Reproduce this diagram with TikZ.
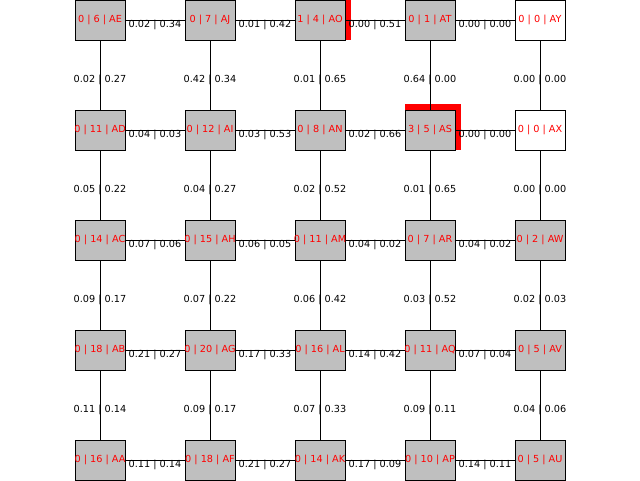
\documentclass[tikz,border=0pt]{standalone}
\usepackage{fontspec}
\setmainfont{DejaVu Sans}
\usetikzlibrary{backgrounds}
\definecolor{cellgray}{HTML}{BFBFBF}
\begin{document}
\begin{tikzpicture}[x=1pt,y=-1pt,
  cell/.style={draw=black, line width=1pt, fill=cellgray, minimum width=50pt, minimum height=40pt, inner sep=0pt, text=red, font=\fontsize{9.7}{11}\selectfont},
  wcell/.style={cell, fill=white},
  link/.style={draw=black, line width=1pt},
  elab/.style={midway, inner sep=0pt, text=black, yshift=-5pt, font=\fontsize{9.7}{11}\selectfont},
  redbar/.style={fill=red, draw=none}]
\useasboundingbox (0,0) rectangle (640,480);
% row 1
\node[cell] (AE) at (100,20) {\makebox[0pt]{0 | 6 | AE}};
\node[cell] (AJ) at (210,20) {\makebox[0pt]{0 | 7 | AJ}};
\node[cell] (AO) at (320,20) {\makebox[0pt]{1 | 4 | AO}};
\node[cell] (AT) at (430,20) {\makebox[0pt]{0 | 1 | AT}};
\node[wcell] (AY) at (540,20) {\makebox[0pt]{0 | 0 | AY}};
% row 2
\node[cell] (AD) at (100,130) {\makebox[0pt]{0 | 11 | AD}};
\node[cell] (AI) at (210,130) {\makebox[0pt]{0 | 12 | AI}};
\node[cell] (AN) at (320,130) {\makebox[0pt]{0 | 8 | AN}};
\node[cell] (AS) at (430,130) {\makebox[0pt]{3 | 5 | AS}};
\node[wcell] (AX) at (540,130) {\makebox[0pt]{0 | 0 | AX}};
% row 3
\node[cell] (AC) at (100,240) {\makebox[0pt]{0 | 14 | AC}};
\node[cell] (AH) at (210,240) {\makebox[0pt]{0 | 15 | AH}};
\node[cell] (AM) at (320,240) {\makebox[0pt]{0 | 11 | AM}};
\node[cell] (AR) at (430,240) {\makebox[0pt]{0 | 7 | AR}};
\node[cell] (AW) at (540,240) {\makebox[0pt]{0 | 2 | AW}};
% row 4
\node[cell] (AB) at (100,350) {\makebox[0pt]{0 | 18 | AB}};
\node[cell] (AG) at (210,350) {\makebox[0pt]{0 | 20 | AG}};
\node[cell] (AL) at (320,350) {\makebox[0pt]{0 | 16 | AL}};
\node[cell] (AQ) at (430,350) {\makebox[0pt]{0 | 11 | AQ}};
\node[cell] (AV) at (540,350) {\makebox[0pt]{0 | 5 | AV}};
% row 5
\node[cell] (AA) at (100,460) {\makebox[0pt]{0 | 16 | AA}};
\node[cell] (AF) at (210,460) {\makebox[0pt]{0 | 18 | AF}};
\node[cell] (AK) at (320,460) {\makebox[0pt]{0 | 14 | AK}};
\node[cell] (AP) at (430,460) {\makebox[0pt]{0 | 10 | AP}};
\node[cell] (AU) at (540,460) {\makebox[0pt]{0 | 5 | AU}};
% red marks
\begin{scope}[on background layer]
\fill[redbar] (345,-2) rectangle (350.7,40);
\fill[redbar] (405,104) rectangle (461,110);
\fill[redbar] (455,104) rectangle (461,150);
\end{scope}
% horizontal links
\draw[link] (AE) -- (AJ) node[elab] {0.02 | 0.34};
\draw[link] (AJ) -- (AO) node[elab] {0.01 | 0.42};
\draw[link] (AO) -- (AT) node[elab] {0.00 | 0.51};
\draw[link] (AT) -- (AY) node[elab] {0.00 | 0.00};
\draw[link] (AD) -- (AI) node[elab] {0.04 | 0.03};
\draw[link] (AI) -- (AN) node[elab] {0.03 | 0.53};
\draw[link] (AN) -- (AS) node[elab] {0.02 | 0.66};
\draw[link] (AS) -- (AX) node[elab] {0.00 | 0.00};
\draw[link] (AC) -- (AH) node[elab] {0.07 | 0.06};
\draw[link] (AH) -- (AM) node[elab] {0.06 | 0.05};
\draw[link] (AM) -- (AR) node[elab] {0.04 | 0.02};
\draw[link] (AR) -- (AW) node[elab] {0.04 | 0.02};
\draw[link] (AB) -- (AG) node[elab] {0.21 | 0.27};
\draw[link] (AG) -- (AL) node[elab] {0.17 | 0.33};
\draw[link] (AL) -- (AQ) node[elab] {0.14 | 0.42};
\draw[link] (AQ) -- (AV) node[elab] {0.07 | 0.04};
\draw[link] (AA) -- (AF) node[elab] {0.11 | 0.14};
\draw[link] (AF) -- (AK) node[elab] {0.21 | 0.27};
\draw[link] (AK) -- (AP) node[elab] {0.17 | 0.09};
\draw[link] (AP) -- (AU) node[elab] {0.14 | 0.11};
% vertical links
\draw[link] (AE) -- (AD) node[elab] {0.02 | 0.27};
\draw[link] (AJ) -- (AI) node[elab] {0.42 | 0.34};
\draw[link] (AO) -- (AN) node[elab] {0.01 | 0.65};
\draw[link] (AT) -- (AS) node[elab] {0.64 | 0.00};
\draw[link] (AY) -- (AX) node[elab] {0.00 | 0.00};
\draw[link] (AD) -- (AC) node[elab] {0.05 | 0.22};
\draw[link] (AI) -- (AH) node[elab] {0.04 | 0.27};
\draw[link] (AN) -- (AM) node[elab] {0.02 | 0.52};
\draw[link] (AS) -- (AR) node[elab] {0.01 | 0.65};
\draw[link] (AX) -- (AW) node[elab] {0.00 | 0.00};
\draw[link] (AC) -- (AB) node[elab] {0.09 | 0.17};
\draw[link] (AH) -- (AG) node[elab] {0.07 | 0.22};
\draw[link] (AM) -- (AL) node[elab] {0.06 | 0.42};
\draw[link] (AR) -- (AQ) node[elab] {0.03 | 0.52};
\draw[link] (AW) -- (AV) node[elab] {0.02 | 0.03};
\draw[link] (AB) -- (AA) node[elab] {0.11 | 0.14};
\draw[link] (AG) -- (AF) node[elab] {0.09 | 0.17};
\draw[link] (AL) -- (AK) node[elab] {0.07 | 0.33};
\draw[link] (AQ) -- (AP) node[elab] {0.09 | 0.11};
\draw[link] (AV) -- (AU) node[elab] {0.04 | 0.06};
\end{tikzpicture}
\end{document}
